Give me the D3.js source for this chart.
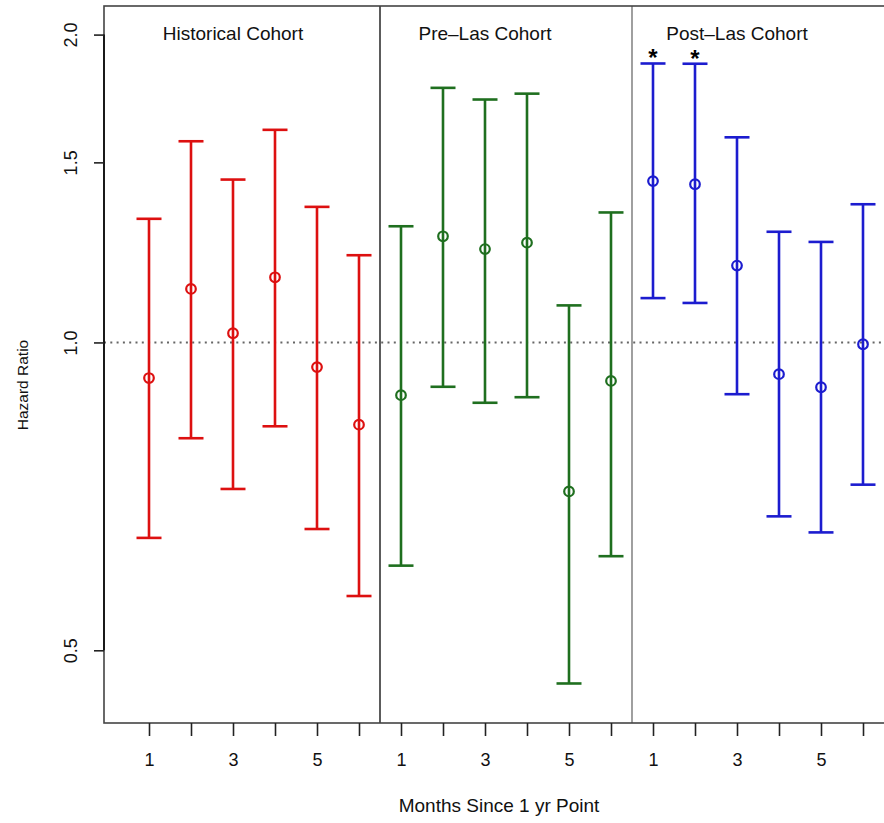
<!DOCTYPE html>
<html>
<head>
<meta charset="utf-8">
<script src="https://cdn.jsdelivr.net/npm/d3@7"></script>
<style>
  body { margin: 0; background: #fff; }
  svg { display: block; font-family: "Liberation Sans", Arial, sans-serif; }
</style>
</head>
<body>
<div id="container"></div>
<script>
/* CONSTANTS AND GLOBALS */
const width = 884,
  height = 823,
  plotLeft = 104,
  plotRight = 896,
  plotTop = 6,
  plotBottom = 723;

/* DATA */
const cohorts = ["Historical Cohort", "Pre\u2013Las Cohort", "Post\u2013Las Cohort"];
const months = [1, 2, 3, 4, 5, 6];
const colors = ["#dd1010", "#1f6f1f", "#1c1ccf"];

const histHR = [0.923, 1.128, 1.021, 1.158, 0.946, 0.831];
const histLo = [0.644, 0.806, 0.719, 0.828, 0.657, 0.565];
const histHi = [1.321, 1.573, 1.443, 1.614, 1.357, 1.217];

const preHR = [0.888, 1.270, 1.234, 1.252, 0.715, 0.917];
const preLo = [0.605, 0.905, 0.873, 0.884, 0.464, 0.618];
const preHi = [1.299, 1.774, 1.728, 1.751, 1.087, 1.340];

const postHR = [1.438, 1.428, 1.189, 0.931, 0.904, 0.996];
const postLo = [1.105, 1.093, 0.890, 0.676, 0.652, 0.726];
const postHi = [1.874, 1.873, 1.587, 1.283, 1.254, 1.365];
const postSig = [true, true, false, false, false, false];

const yTicks = [0.5, 1.0, 1.5, 2.0];

// one row per bar, position 1..18 along the x axis
const rows = [];
[[histHR, histLo, histHi, null], [preHR, preLo, preHi, null], [postHR, postLo, postHi, postSig]]
  .forEach(([hr, lo, hi, sig], c) => {
    months.forEach((m, i) => {
      rows.push({ cohort: c, month: m, pos: c * months.length + m,
        hr: hr[i], lo: lo[i], hi: hi[i], sig: sig ? sig[i] : false });
    });
  });

/* SCALES */
const xScale = d3.scaleLinear()
  .domain([1, 18])
  .range([149, 863]);

const yScale = d3.scaleLog()
  .domain([0.4245, 2.133])
  .range([plotBottom, plotTop]);

/* SVG */
const svg = d3.select("#container")
  .append("svg")
  .attr("width", width)
  .attr("height", height);

// reference line at HR = 1
svg.append("line")
  .attr("x1", plotLeft).attr("x2", plotRight)
  .attr("y1", yScale(1)).attr("y2", yScale(1))
  .attr("stroke", "#666")
  .attr("stroke-width", 2)
  .attr("stroke-dasharray", "2,4.3");

// cohort dividers
svg.selectAll("line.div")
  .data([6.5, 12.5])
  .join("line")
  .attr("class", "div")
  .attr("x1", d => xScale(d)).attr("x2", d => xScale(d))
  .attr("y1", plotTop).attr("y2", plotBottom)
  .attr("stroke", (d, i) => i == 0 ? "#333" : "#888")
  .attr("stroke-width", 1.6);

// frame
svg.append("rect")
  .attr("x", plotLeft).attr("y", plotTop)
  .attr("width", plotRight - plotLeft).attr("height", plotBottom - plotTop)
  .attr("fill", "none")
  .attr("stroke", "#444")
  .attr("stroke-width", 1.6);

/* AXES */
const xAxis = d3.axisBottom(xScale)
  .tickValues(d3.range(1, 19))
  .tickFormat(d => { const m = (d - 1) % 6 + 1; return m % 2 ? m : ""; })
  .tickSize(13)
  .tickPadding(17);

const xg = svg.append("g")
  .attr("transform", `translate(0,${plotBottom})`)
  .call(xAxis);
xg.select(".domain").remove();
xg.selectAll("line").attr("stroke", "#222").attr("stroke-width", 1.6);
xg.selectAll("text").style("font-size", "18px").attr("fill", "#111");

const yAxis = d3.axisLeft(yScale)
  .tickValues(yTicks)
  .tickFormat(d3.format(".1f"))
  .tickSize(10);

const yg = svg.append("g")
  .attr("transform", `translate(${plotLeft},0)`)
  .call(yAxis);
yg.select(".domain")
  .attr("d", `M0,${yScale(2)}V${yScale(0.5)}`)
  .attr("stroke", "#111").attr("stroke-width", 1.8);
yg.selectAll("line").attr("stroke", "#222").attr("stroke-width", 1.6);
yg.selectAll("text")
  .attr("x", 0).attr("y", -27).attr("dy", null)
  .attr("transform", "rotate(-90)")
  .attr("text-anchor", "middle")
  .style("font-size", "18px")
  .attr("fill", "#111");

/* ERROR BARS */
const bars = svg.selectAll("g.bar")
  .data(rows)
  .join("g")
  .attr("class", "bar")
  .attr("stroke", d => colors[d.cohort])
  .attr("stroke-width", 2.6)
  .attr("fill", "none");

bars.append("line")
  .attr("x1", d => xScale(d.pos)).attr("x2", d => xScale(d.pos))
  .attr("y1", d => yScale(d.lo)).attr("y2", d => yScale(d.hi));

bars.append("line")
  .attr("x1", d => xScale(d.pos) - 12.5).attr("x2", d => xScale(d.pos) + 12.5)
  .attr("y1", d => yScale(d.hi)).attr("y2", d => yScale(d.hi));

bars.append("line")
  .attr("x1", d => xScale(d.pos) - 12.5).attr("x2", d => xScale(d.pos) + 12.5)
  .attr("y1", d => yScale(d.lo)).attr("y2", d => yScale(d.lo));

bars.append("circle")
  .attr("cx", d => xScale(d.pos))
  .attr("cy", d => yScale(d.hr))
  .attr("r", 4.8)
  .attr("stroke-width", 2.2);

// significance stars
svg.selectAll("text.star")
  .data(rows.filter(d => d.sig))
  .join("text")
  .attr("class", "star")
  .attr("x", d => xScale(d.pos))
  .attr("y", d => yScale(d.hi) + 3)
  .attr("text-anchor", "middle")
  .style("font-size", "24px")
  .style("font-weight", "bold")
  .text("*");

/* TITLES AND LABELS */
svg.selectAll("text.cohort")
  .data(cohorts)
  .join("text")
  .attr("class", "cohort")
  .attr("x", (d, i) => xScale(i * 6 + 3))
  .attr("y", 40)
  .attr("text-anchor", "middle")
  .style("font-size", "19px")
  .attr("fill", "#111")
  .text(d => d);

svg.append("text")
  .attr("x", 499)
  .attr("y", 812)
  .attr("text-anchor", "middle")
  .style("font-size", "19px")
  .attr("fill", "#111")
  .text("Months Since 1 yr Point");

svg.append("text")
  .attr("transform", "rotate(-90)")
  .attr("x", -385)
  .attr("y", 28)
  .attr("text-anchor", "middle")
  .style("font-size", "15.5px")
  .attr("fill", "#111")
  .text("Hazard Ratio");
</script>
</body>
</html>
